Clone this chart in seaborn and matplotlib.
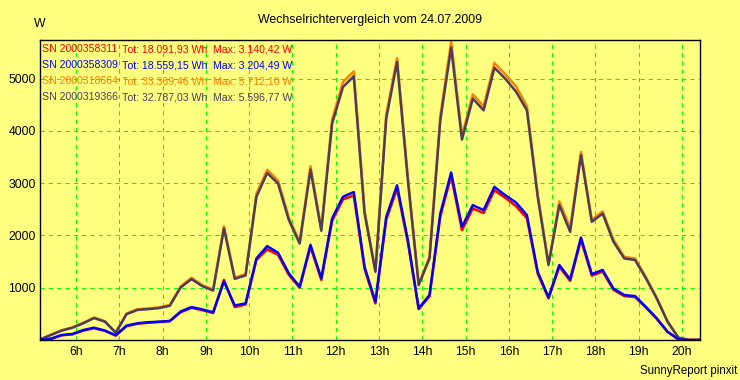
import matplotlib
matplotlib.use("Agg")
import matplotlib.pyplot as plt
import seaborn as sns
import pandas as pd

# 15-minute readings, 24.07.2009
times = pd.date_range("2009-07-24 05:10", "2009-07-24 20:25", freq="15min")
hours = times.hour + times.minute / 60

sn_311 = [0, 20, 90, 110, 180, 225, 175, 85, 265, 310, 330, 345, 360, 530, 615, 570,
          515, 1150, 630, 680, 1530, 1735, 1630, 1245, 1000, 1780, 1150, 2280, 2690, 2765,
          1360, 700, 2300, 2895, 1870, 590, 835, 2365, 3140, 2100, 2515, 2430, 2865, 2720,
          2560, 2330, 1270, 795, 1400, 1130, 1915, 1230, 1310, 960, 840, 820, 620, 405,
          155, 12, 0, 0]
sn_309 = [0, 25, 95, 115, 190, 235, 180, 90, 275, 320, 340, 350, 365, 545, 630, 585,
          530, 1120, 660, 700, 1560, 1795, 1670, 1275, 1020, 1820, 1180, 2325, 2740, 2830,
          1400, 730, 2355, 2960, 1910, 605, 860, 2420, 3204, 2165, 2580, 2485, 2930, 2770,
          2630, 2390, 1305, 815, 1435, 1160, 1960, 1260, 1340, 985, 860, 840, 635, 415,
          160, 15, 0, 0]
sn_664 = [10, 100, 185, 240, 330, 430, 360, 145, 505, 590, 605, 625, 670, 1025, 1190, 1050,
          965, 2175, 1195, 1260, 2795, 3255, 3050, 2340, 1880, 3325, 2130, 4220, 4935, 5140,
          2465, 1330, 4315, 5390, 3115, 1070, 1590, 4290, 5712, 3905, 4700, 4470, 5300, 5085,
          4850, 4470, 2790, 1460, 2650, 2140, 3600, 2300, 2460, 1920, 1590, 1560, 1205, 810,
          360, 45, 0, 0]
sn_366 = [10, 95, 180, 235, 320, 420, 350, 140, 495, 575, 590, 610, 655, 1005, 1165, 1030,
          945, 2135, 1170, 1235, 2740, 3195, 2995, 2295, 1845, 3260, 2090, 4140, 4840, 5045,
          2420, 1305, 4235, 5320, 3055, 1050, 1560, 4205, 5597, 3835, 4620, 4395, 5210, 5000,
          4750, 4395, 2740, 1435, 2580, 2070, 3535, 2260, 2420, 1880, 1560, 1530, 1180, 795,
          350, 45, 0, 0]

serials = ["2000358311", "2000358309", "2000318664", "2000319366"]
totals = [18091.93, 18559.15, 33369.46, 32787.03]
maxima = [3140.42, 3204.49, 5712.10, 5596.77]
colors = ["#ff0000", "#0000ff", "#ff8000", "#4e3c5c"]
draw_order = ["2000318664", "2000319366", "2000358311", "2000358309"]

yticks = [1000, 2000, 3000, 4000, 5000]
xticks = list(range(6, 21))
xtick_labels = [f"{h}h" for h in xticks]

bg = "#ffff80"


def de_num(v):
    return f"{v:,.2f}".replace(",", "X").replace(".", ",").replace("X", ".")


df = pd.DataFrame({"hour": hours, serials[0]: sn_311, serials[1]: sn_309,
                   serials[2]: sn_664, serials[3]: sn_366})
df = df.melt(id_vars="hour", var_name="sn", value_name="W")

plt.rcParams["font.family"] = ["Liberation Sans", "DejaVu Sans"]
fig = plt.figure(figsize=(7.4, 3.8), dpi=100, facecolor=bg)
ax = fig.add_axes([40 / 740, 1 - 340 / 380, 660 / 740, 300 / 380])
ax.set_facecolor(bg)

sns.lineplot(data=df, x="hour", y="W", hue="sn", hue_order=draw_order,
             palette=dict(zip(serials, colors)), linewidth=1.8, legend=False, ax=ax)

ax.set_xlim(hours[0], hours[-1])
ax.set_ylim(0, 5740)
ax.set_xticks(xticks)
ax.set_xticklabels(xtick_labels)
ax.set_yticks(yticks)
ax.tick_params(length=0, labelsize=8.8, colors="black")
ax.tick_params(axis="x", pad=4)
ax.tick_params(axis="y", pad=3)
ax.grid(True, color="#00ff00", linestyle=(0, (4, 4)), linewidth=0.75)
ax.set_axisbelow(True)
ax.set_xlabel("")
ax.set_ylabel("")
for s in ax.spines.values():
    s.set_color("black")
    s.set_linewidth(1)

fig.text(370 / 740, 1 - 20 / 380, "Wechselrichtervergleich vom 24.07.2009",
         ha="center", va="center", fontsize=8.9)
fig.text(40 / 740, 1 - 24 / 380, "W", ha="center", va="center", fontsize=8.8)
fig.text(737 / 740, 1 - 371 / 380, "SunnyReport pinxit", ha="right", va="center",
         fontsize=8.3)

# legend block inside the plot, three columns
row_y = [49, 65, 81, 97]
for sn, tot, mx, c, y in zip(serials, totals, maxima, colors, row_y):
    fig.text(42 / 740, 1 - y / 380, f"SN {sn}", color=c, va="center", fontsize=7.6)
    fig.text(122 / 740, 1 - y / 380, f"Tot: {de_num(tot)} Wh", color=c, va="center",
             fontsize=7.6)
    fig.text(213 / 740, 1 - y / 380, f"Max: {de_num(mx)} W", color=c, va="center",
             fontsize=7.6)

fig.savefig("out.png", dpi=100, facecolor=bg)
